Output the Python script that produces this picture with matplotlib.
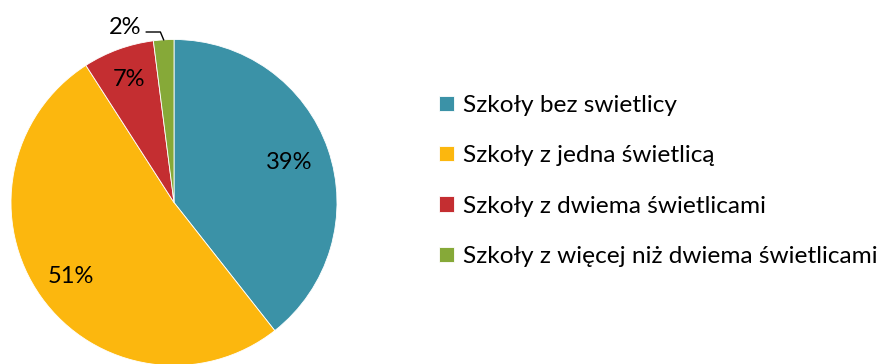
import numpy as np
import matplotlib.pyplot as plt

plt.rcParams['font.family'] = ['Lato', 'DejaVu Sans']

categories = ['Szkoły bez swietlicy', 'Szkoły z jedna świetlicą',
              'Szkoły z dwiema świetlicami', 'Szkoły z więcej niż dwiema świetlicami']
shares = [39, 51, 7, 2]
colors = ['#3B92A7', '#FCB70E', '#C42E31', '#86A938']

W, H = 884, 364
fig = plt.figure(figsize=(W / 100, H / 100), dpi=100)

# pie axes placed in pixel terms: centre (174, 202.5), radius 163
cx, cy, r = 174, 202.5, 163
ax = fig.add_axes([(cx - r) / W, (H - cy - r) / H, 2 * r / W, 2 * r / H])
wedges, _ = ax.pie(shares, colors=colors, startangle=90, counterclock=False,
                   radius=1, wedgeprops=dict(linewidth=0.6, edgecolor='white'))
ax.set_xlim(-1, 1)
ax.set_ylim(-1, 1)
ax.set_aspect('equal')
ax.axis('off')

# percentage labels at each wedge's mid angle
total = sum(shares)
dists = [0.75, 0.78, 0.8, None]
cum = 0
for val, d in zip(shares, dists):
    mid = (cum + val / 2) / total * 2 * np.pi
    cum += val
    if d is None:
        continue
    ax.text(d * np.sin(mid), d * np.cos(mid), f'{val}%', ha='center', va='center',
            fontsize=17)

# small slice gets an outside label with a leader line
mid = (cum - shares[-1] / 2) / total * 2 * np.pi
tip = (np.sin(mid), np.cos(mid))
ax.plot([tip[0], tip[0] - 0.02, -0.17], [tip[1], 1.046, 1.046],
        color='black', lw=1, clip_on=False)
ax.text(-0.3, 1.075, f'{shares[-1]}%', ha='center', va='center', fontsize=17,
        clip_on=False)

fig.legend(wedges, categories, loc='upper left', bbox_to_anchor=(439 / W, 1 - 95 / H),
           frameon=False, fontsize=17.6, handlelength=0.6, handleheight=0.6,
           handletextpad=0.4, labelspacing=1.2, borderaxespad=0, borderpad=0)

fig.savefig('out.png', dpi=100)
